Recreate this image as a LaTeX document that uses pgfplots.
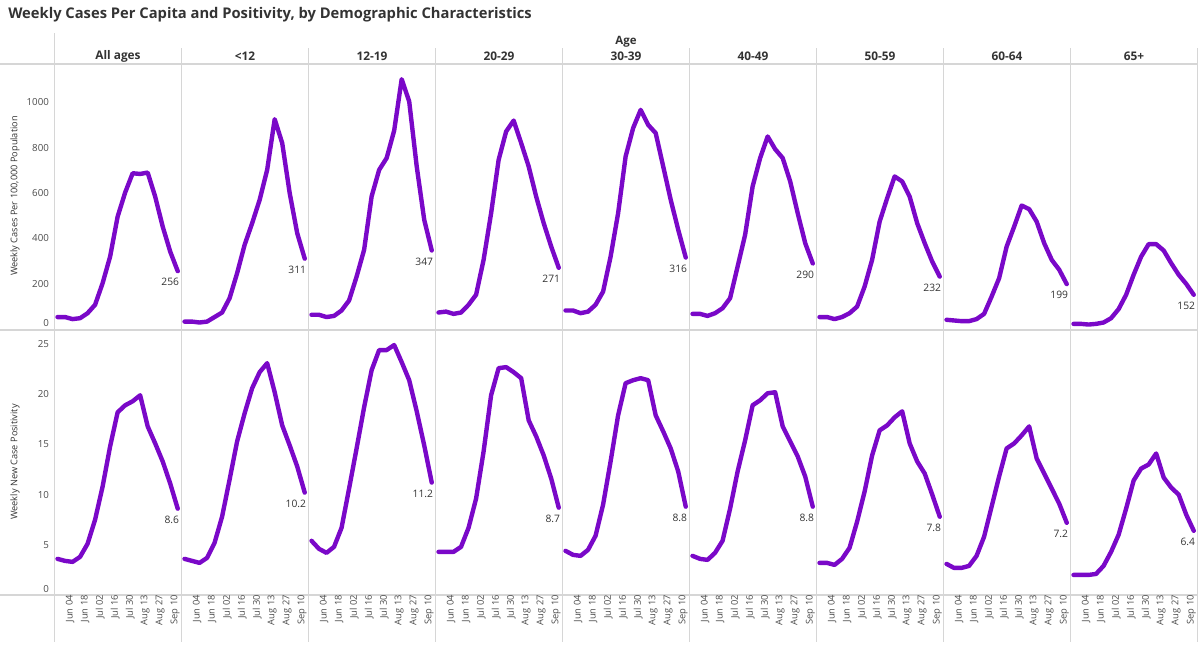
\documentclass[border=0pt]{standalone}
\usepackage{pgfplots}
\pgfplotsset{compat=1.18}
\usepackage{pgfplotstable}
\usepackage{fontspec}
\setmainfont{Open Sans}
\definecolor{lineP}{RGB}{122,8,200}
\definecolor{gridG}{RGB}{214,214,214}
\definecolor{txt}{RGB}{51,51,51}
\definecolor{tick}{RGB}{75,75,75}

\pgfplotstableread{
i all u12 a1219 a2029 a3039 a4049 a5059 a6064 a65
0 54 34 64 74 83 68 54 42 24
1 54 34 64 78 83 68 54 39 24
2 45 30 54 68 71 59 45 36 21
3 49 34 59 74 78 71 54 36 24
4 71 54 83 108 108 93 71 45 30
5 108 74 127 152 166 137 100 68 49
6 203 137 232 306 320 276 188 144 89
7 320 247 350 511 511 416 306 225 152
8 496 372 585 746 761 629 474 364 240
9 602 467 702 871 886 754 577 452 320
10 687 570 754 919 966 849 673 545 375
11 684 702 875 820 900 793 651 529 375
12 690 925 1101 717 864 754 584 474 347
13 584 820 1003 584 717 651 467 379 291
14 452 599 717 467 570 511 379 306 240
15 342 423 482 364 438 379 298 262 200
16 256 311 347 271 316 290 232 199 152
}\casesdata

\pgfplotstableread{
i all u12 a1219 a2029 a3039 a4049 a5059 a6064 a65
0 3.6 3.6 5.4 4.3 4.4 3.9 3.2 3.1 2.0
1 3.4 3.4 4.6 4.3 4.0 3.6 3.2 2.7 2.0
2 3.3 3.2 4.2 4.3 3.9 3.5 3.0 2.7 2.0
3 3.8 3.7 4.8 4.8 4.5 4.2 3.6 2.9 2.1
4 5.1 5.2 6.7 6.7 5.9 5.4 4.7 3.9 2.9
5 7.5 7.8 10.6 9.6 9.0 8.6 7.3 5.8 4.3
6 10.8 11.5 14.6 14.3 13.3 12.3 10.3 8.8 6.0
7 14.8 15.3 18.7 19.9 17.9 15.4 13.9 11.8 8.6
8 18.2 18.1 22.4 22.6 21.1 18.9 16.4 14.6 11.4
9 18.9 20.6 24.4 22.7 21.4 19.4 16.9 15.1 12.6
10 19.3 22.2 24.4 22.2 21.6 20.1 17.7 15.9 13.0
11 19.9 23.1 24.9 21.6 21.4 20.2 18.3 16.8 14.1
12 16.8 20.2 23.2 17.4 17.9 16.8 15.1 13.6 11.7
13 15.1 16.9 21.4 15.8 16.3 15.3 13.3 12.1 10.7
14 13.3 14.9 18.3 13.9 14.6 13.8 12.1 10.6 10.0
15 11.1 12.8 14.9 11.6 12.3 11.8 10.0 9.1 8.0
16 8.6 10.2 11.2 8.7 8.8 8.8 7.8 7.2 6.4
}\posdata

\tikzset{
  dline/.style={lineP, line width=3.3pt, line join=round, line cap=round},
  endlab/.style={anchor=north east, inner sep=0pt, xshift=1.2pt, yshift=-5.3pt, font=\fontsize{7.7}{8}\selectfont, text=txt},
}
\pgfplotsset{
  panel/.style={
    scale only axis, width=95.25pt, anchor=north west,
    xmin=-0.4, xmax=16.5, clip=false,
    axis line style={draw=none}, tick style={draw=none},
    /pgf/number format/assume math mode=true,
    /pgf/number format/1000 sep={},
    yticklabel style={font=\fontsize{7.3}{8}\selectfont, text=tick, inner sep=0pt, xshift=-4pt},
    xticklabel style={font=\fontsize{7}{8}\selectfont, text=tick, rotate=90, anchor=east, inner sep=0pt, yshift=-3.75pt},
  },
  toprow/.style={panel, height=199.5pt, ymin=-3, ymax=1168, xtick=\empty, ytick=\empty},
  botrow/.style={panel, height=198.75pt, ymin=0, ymax=26.4,
    xtick={1,3,5,7,9,11,13,15},
    xticklabels={Jun 04,Jun 18,Jul 02,Jul 16,Jul 30,Aug 13,Aug 27,Sep 10},
    ytick=\empty},
}

\newcommand{\toppanel}[4]{%
\begin{axis}[toprow, at={(#1pt,-48pt)}, #4]
\addplot[dline] table[x=i, y=#2] {\casesdata};
\node[endlab] at (axis cs:16,#3) {#3};
\end{axis}}
\newcommand{\botpanel}[4]{%
\begin{axis}[botrow, at={(#1pt,-247.5pt)}, #4]
\addplot[dline] table[x=i, y=#2] {\posdata};
\node[endlab] at (axis cs:16,#3) {#3};
\end{axis}}

\begin{document}
\begin{tikzpicture}
\useasboundingbox (0,0) rectangle (900pt,-485.25pt);
% frame lines
\draw[gridG, line width=0.8pt] (0pt,-48pt) -- (898pt,-48pt);
\draw[gridG, line width=0.8pt] (0pt,-247.5pt) -- (898pt,-247.5pt);
\draw[gridG, line width=0.8pt] (0pt,-446.25pt) -- (898pt,-446.25pt);
\draw[gridG, line width=0.8pt] (40.875pt,-24.75pt) -- (40.875pt,-481.5pt);
\foreach \xx in {136.125,231.375,326.625,421.875,517.125,612.375,707.625,802.875,898.125}
  \draw[gridG, line width=0.8pt] (\xx pt,-36pt) -- (\xx pt,-481.5pt);

% titles
\node[anchor=west, inner sep=0pt, text=txt, font=\fontsize{11.05}{12}\selectfont\bfseries] at (6pt,-11.25pt) {Weekly Cases Per Capita and Positivity, by Demographic Characteristics};
\node[inner sep=0pt, text=txt, font=\fontsize{8.6}{10}\selectfont\bfseries] at (469.5pt,-31.3pt) {Age};
\foreach \xx/\lab in {88.5/All ages,183.75/<12,279/12-19,374.25/20-29,469.5/30-39,564.75/40-49,660/50-59,755.25/60-64,850.5/65+}
  \node[inner sep=0pt, text=txt, font=\fontsize{8.9}{10}\selectfont\bfseries] at (\xx pt,-42.5pt) {\lab};
\node[rotate=90, inner sep=0pt, text=txt, font=\fontsize{6.9}{8}\selectfont] at (11.25pt,-147pt) {Weekly Cases Per 100,000 Population};
\node[rotate=90, inner sep=0pt, text=txt, font=\fontsize{6.9}{8}\selectfont] at (11.25pt,-346.5pt) {Weekly New Case Positivity};

% top row
\toppanel{40.875}{all}{256}{ytick={200,400,600,800,1000}, extra y ticks={0}, extra y tick style={yticklabel style={yshift=4.9pt}}}
\toppanel{136.125}{u12}{311}{}
\toppanel{231.375}{a1219}{347}{}
\toppanel{326.625}{a2029}{271}{}
\toppanel{421.875}{a3039}{316}{}
\toppanel{517.125}{a4049}{290}{}
\toppanel{612.375}{a5059}{232}{}
\toppanel{707.625}{a6064}{199}{}
\toppanel{802.875}{a65}{152}{}
% bottom row
\botpanel{40.875}{all}{8.6}{ytick={5,10,15,20,25}, extra y ticks={0}, extra y tick style={yticklabel style={yshift=4.7pt}}}
\botpanel{136.125}{u12}{10.2}{}
\botpanel{231.375}{a1219}{11.2}{}
\botpanel{326.625}{a2029}{8.7}{}
\botpanel{421.875}{a3039}{8.8}{}
\botpanel{517.125}{a4049}{8.8}{}
\botpanel{612.375}{a5059}{7.8}{}
\botpanel{707.625}{a6064}{7.2}{}
\botpanel{802.875}{a65}{6.4}{}
\end{tikzpicture}
\end{document}
